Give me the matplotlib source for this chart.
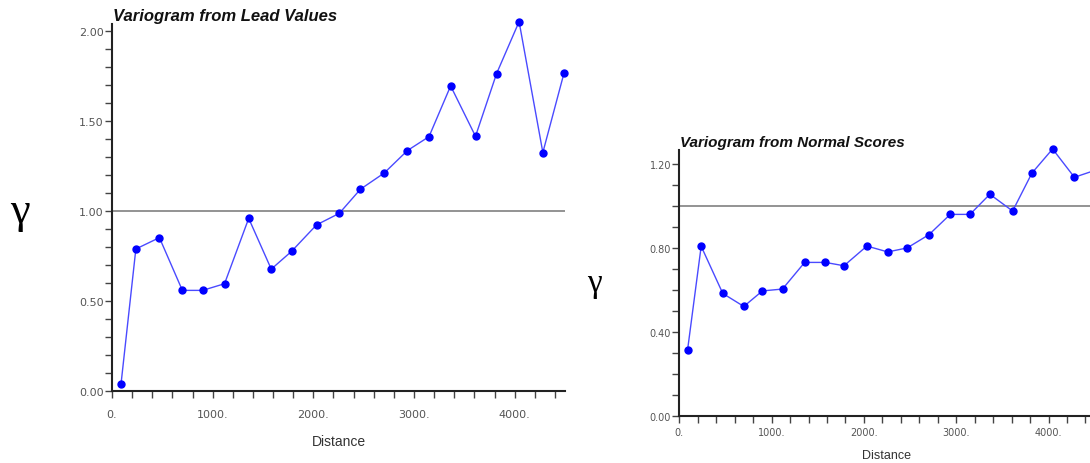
import matplotlib
matplotlib.use("Agg")
from matplotlib import pyplot as plt
from matplotlib.ticker import MultipleLocator, FormatStrFormatter

# lag distances (shared by both variograms)
lags = [90, 237, 471, 699, 900, 1118, 1358, 1582, 1784, 2032, 2258,
        2468, 2704, 2935, 3149, 3364, 3611, 3820, 4044, 4280, 4490]

# semivariance, lead values
gamma_lead = [0.041, 0.789, 0.852, 0.559, 0.559, 0.596, 0.959, 0.677, 0.776,
              0.923, 0.987, 1.121, 1.211, 1.336, 1.413, 1.695, 1.415, 1.763,
              2.052, 1.325, 1.766]

# semivariance, normal scores
gamma_ns = [0.315, 0.808, 0.583, 0.521, 0.595, 0.604, 0.731, 0.731, 0.715,
            0.809, 0.781, 0.800, 0.863, 0.960, 0.960, 1.056, 0.976, 1.157,
            1.272, 1.137, 1.168]

titles = ["Variogram from Lead Values", "Variogram from Normal Scores"]

W, H = 1090, 464
fig = plt.figure(figsize=(W / 100, H / 100), dpi=100)

def px_axes(left, bottom, width, height):
    return fig.add_axes([left / W, 1 - bottom / H, width / W, height / H])

ax1 = px_axes(112, 392, 453, 2.04 * 180)
ax2 = px_axes(679.3, 416.7, 415.4, 1.268 * 209.7)

# ax, values, ylim, major step, title, title pos (px), title size, tick size, xtick pad, xlabel pad
setups = [
    (ax1, gamma_lead, (0, 2.04), 0.5, titles[0], (113, 17), 12, 8, 8, 11),
    (ax2, gamma_ns, (0, 1.268), 0.4, titles[1], (680, 143), 11, 7, 3, 9),
]

for ax, vals, ylim, ymajor, title, tpos, tsize, ticksize, xpad, lpad in setups:
    ax.axhline(1.0, color="#8a8a8a", lw=1.3, zorder=1)
    ax.plot(lags, vals, color="#4a4aff", lw=1.0, marker="o", ms=5,
            mfc="#0000ff", mec="#0000ff", zorder=3, clip_on=False)
    ax.set_xlim(0, 4500)
    ax.set_ylim(*ylim)
    ax.xaxis.set_major_locator(MultipleLocator(1000))
    ax.xaxis.set_minor_locator(MultipleLocator(200))
    ax.yaxis.set_major_locator(MultipleLocator(ymajor))
    ax.yaxis.set_minor_locator(MultipleLocator(0.1))
    ax.xaxis.set_major_formatter(FormatStrFormatter("%d."))
    ax.yaxis.set_major_formatter(FormatStrFormatter("%.2f"))
    for s in ["top", "right"]:
        ax.spines[s].set_visible(False)
    for s in ["left", "bottom"]:
        ax.spines[s].set_linewidth(1.5)
        ax.spines[s].set_color("#222222")
    ax.tick_params(which="both", direction="out", color="#444444",
                   labelsize=ticksize, labelcolor="#555555", width=1)
    ax.tick_params(which="both", length=5)
    ax.tick_params(axis="x", which="major", pad=xpad)
    ax.tick_params(axis="y", which="major", pad=1)
    ax.set_xlabel("Distance", fontsize=ticksize + 2, color="#333333",
                  family="Liberation Sans", labelpad=lpad)
    fig.text(tpos[0] / W, 1 - tpos[1] / H, title, fontsize=tsize,
             fontweight="bold", fontstyle="italic", family="Liberation Sans",
             va="center", ha="left", color="#111111")

fig.text(20 / W, 1 - 212 / H, "\u03b3", fontsize=32, family="Liberation Serif",
         ha="center", va="center")
fig.text(594 / W, 1 - 284 / H, "\u03b3", fontsize=24, family="Liberation Serif",
         ha="center", va="center")

fig.savefig("out.png", dpi=100)
